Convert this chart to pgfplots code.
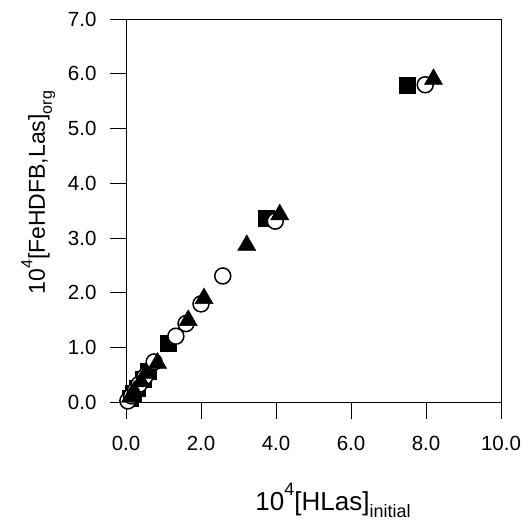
\documentclass[border=0pt]{standalone}
\usepackage{fontspec}
\setmainfont{Liberation Sans}
\usepackage{pgfplots}
\pgfplotsset{compat=1.18}

\begin{document}
\begin{tikzpicture}
\begin{axis}[
  scale only axis, width=375pt, height=383.5pt,
  xmin=0, xmax=10, ymin=0, ymax=7,
  xtick={0,2,...,10}, ytick={0,1,...,7},
  xtick pos=bottom, ytick pos=left,
  tick align=outside, major tick length=16pt,
  axis line style={line width=0.9pt}, tick style={line width=0.9pt, black},
  /pgf/number format/assume math mode=true,
  xticklabel={\pgfmathprintnumber[fixed,fixed zerofill,precision=1]{\tick}},
  yticklabel={\pgfmathprintnumber[fixed,fixed zerofill,precision=1]{\tick}},
  tick label style={font=\fontsize{20.5}{24}\selectfont},
  xticklabel style={yshift=-14pt},
  yticklabel style={xshift=-10pt},
  clip=false,
  xlabel={10\raisebox{0.55em}{\fontsize{18}{18}\selectfont 4}[HLas]\raisebox{-0.3em}{\fontsize{18}{18}\selectfont initial}},
  ylabel={10\raisebox{0.55em}{\fontsize{16}{16}\selectfont 4}[FeHDFB,Las]\raisebox{-0.3em}{\fontsize{16}{16}\selectfont org}},
  xlabel style={font=\fontsize{26}{30}\selectfont,
    at={(axis description cs:0.552,0)}, anchor=base, yshift=-107.5pt},
  ylabel style={font=\fontsize{23}{27}\selectfont,
    at={(axis description cs:0,0.547)}, anchor=base, yshift=81pt},
]
% squares
\addplot[only marks, mark=square*, mark size=8pt, black] coordinates {
  (0.10,0.08) (0.20,0.17) (0.30,0.27) (0.45,0.42) (0.60,0.57)
  (1.12,1.08) (3.73,3.36) (7.50,5.80)
};
% open circles
\addplot[only marks, mark=*, mark size=8pt, line width=1.5pt,
  mark options={draw=black, fill=white}] coordinates {
  (0.05,0.03) (0.15,0.12) (0.25,0.22) (0.35,0.33) (0.50,0.47) (0.75,0.74)
  (1.33,1.21) (1.60,1.44) (2.00,1.80) (2.58,2.31) (3.98,3.31) (7.98,5.80)
};
% triangles
\addplot[only marks, mark=triangle*, mark size=10.5pt, black] coordinates {
  (0.12,0.10) (0.22,0.20) (0.40,0.38) (0.55,0.53) (0.84,0.72)
  (1.66,1.50) (2.08,1.90) (3.22,2.87) (4.10,3.43) (8.20,5.90)
};
\end{axis}
\path[use as bounding box] (-126pt,-115.5pt) rectangle (403pt,402.5pt);
\end{tikzpicture}
\end{document}
